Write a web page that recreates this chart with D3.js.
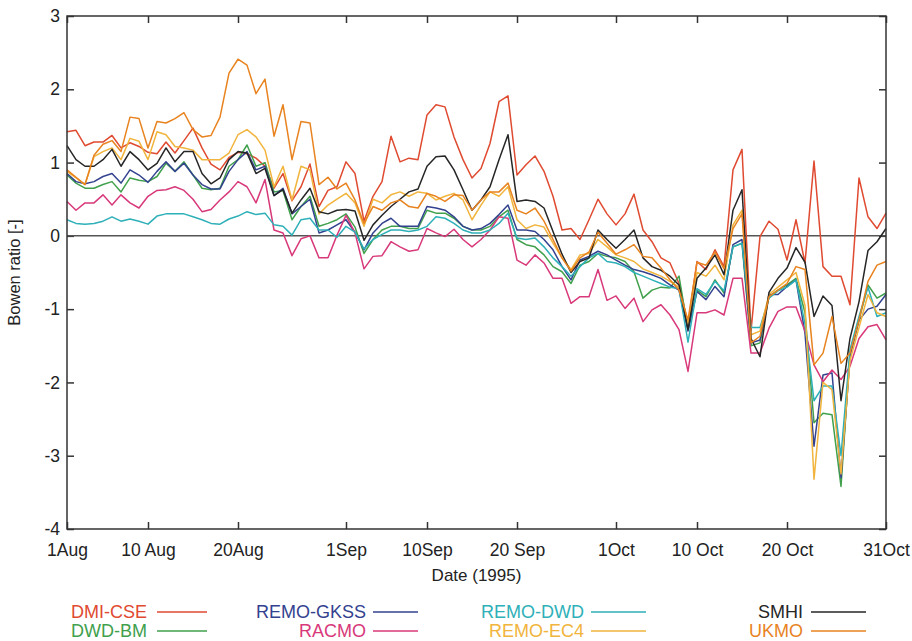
<!DOCTYPE html>
<html>
<head>
<meta charset="utf-8">
<script src="https://cdn.jsdelivr.net/npm/d3@7"></script>
<style>
  body { margin: 0; background: #fff; }
  svg text { font-family: "Liberation Sans", Arial, Helvetica, sans-serif; fill: #222; }
</style>
</head>
<body>
<svg id="chart" width="912" height="641"></svg>
<script>
// days since 1 Aug 1995 (0..91), daily Bowen ratio per model
var tickDays = [0, 9, 19, 31, 40, 50, 61, 70, 80, 91];
var tickLabels = ["1Aug", "10 Aug", "20Aug", "1Sep", "10Sep", "20 Sep", "1Oct", "10 Oct", "20 Oct", "31Oct"];
var yTicks = [-4, -3, -2, -1, 0, 1, 2, 3];

var dmiCse = [1.42, 1.44, 1.23, 1.28, 1.28, 1.37, 1.2, 1.27, 1.22, 1.14,
  1.12, 1.28, 1.13, 1.3, 1.47, 1.2, 0.98, 0.9, 1.07, 1.14,
  1.12, 1.06, 0.95, 0.65, 0.85, 0.48, 0.67, 0.98, 0.4, 0.62,
  0.67, 1.01, 0.85, 0.2, 0.54, 0.74, 1.36, 1.01, 1.06, 1.04,
  1.65, 1.79, 1.76, 1.35, 1.04, 0.79, 0.92, 1.26, 1.83, 1.91,
  0.83, 0.97, 1.09, 0.88, 0.54, 0.08, 0.1, -0.05, 0.22, 0.5,
  0.3, 0.15, 0.3, 0.57, 0.08, -0.08, -0.3, -0.37, -0.65, -1.21,
  -0.35, -0.46, -0.19, -0.42, 0.9, 1.18, -1.3, -0.01, 0.2, 0.09,
  -0.33, 0.22, -0.37, 1.02, -0.42, -0.55, -0.55, -0.94, 0.79, 0.26,
  0.1, 0.31];
var dwdBm = [0.83, 0.72, 0.65, 0.65, 0.7, 0.74, 0.6, 0.79, 0.76, 0.74,
  0.81, 0.99, 0.88, 1.01, 0.83, 0.65, 0.63, 0.65, 0.95, 1.04,
  1.24, 0.95, 1.0, 0.6, 0.62, 0.22, 0.4, 0.54, 0.13, 0.17,
  0.22, 0.3, 0.12, -0.24, -0.05, 0.08, 0.13, 0.13, 0.1, 0.1,
  0.35, 0.31, 0.31, 0.24, 0.13, 0.08, 0.08, 0.13, 0.26, 0.35,
  -0.05, -0.12, -0.15, -0.26, -0.42, -0.49, -0.65, -0.4, -0.35, -0.24,
  -0.28, -0.3, -0.35, -0.49, -0.85, -0.74, -0.7, -0.71, -0.55, -1.28,
  -0.74, -0.83, -0.6, -0.78, -0.15, -0.1, -1.5, -1.46, -0.83, -0.74,
  -0.67, -0.58, -1.05, -2.55, -2.42, -2.44, -3.42, -1.6, -1.15, -0.67,
  -0.85, -0.78];
var remoGkss = [0.85, 0.74, 0.71, 0.74, 0.81, 0.85, 0.72, 0.9, 0.83, 0.73,
  0.88, 1.01, 0.88, 0.99, 0.83, 0.7, 0.64, 0.64, 0.88, 1.04,
  1.15, 0.9, 0.95, 0.55, 0.65, 0.3, 0.4, 0.5, 0.04, 0.08,
  0.15, 0.22, 0.05, -0.19, 0.04, 0.17, 0.24, 0.13, 0.13, 0.13,
  0.4, 0.38, 0.35, 0.26, 0.13, 0.08, 0.1, 0.17, 0.29, 0.42,
  0.08, 0.08, 0.06, -0.05, -0.19, -0.42, -0.6, -0.33, -0.28, -0.21,
  -0.26, -0.33, -0.4, -0.46, -0.49, -0.53, -0.58, -0.67, -0.74, -1.3,
  -0.76, -0.87, -0.69, -0.83, -0.12, -0.05, -1.46, -1.42, -0.8, -0.8,
  -0.69, -0.6, -1.33, -2.87, -1.9, -1.87, -3.3, -1.65, -1.15, -1.0,
  -0.96, -0.8];
var racmo = [0.47, 0.35, 0.45, 0.45, 0.56, 0.42, 0.56, 0.45, 0.38, 0.54,
  0.62, 0.63, 0.67, 0.62, 0.5, 0.33, 0.36, 0.49, 0.6, 0.74,
  0.67, 0.45, 0.77, 0.08, 0.04, -0.27, -0.04, 0.0, -0.3, -0.3,
  0.01, 0.28, 0.04, -0.45, -0.28, -0.27, -0.08, -0.15, -0.21, -0.19,
  0.1, 0.04, -0.01, 0.09, -0.05, -0.15, -0.05, 0.08, 0.26, 0.24,
  -0.33, -0.4, -0.26, -0.37, -0.58, -0.58, -0.92, -0.83, -0.83, -0.46,
  -0.88, -0.82, -0.99, -0.85, -1.17, -1.01, -0.94, -1.08, -1.28, -1.85,
  -1.05, -1.05, -1.01, -1.08, -0.58, -0.58, -1.6, -1.6, -1.26, -1.03,
  -0.97, -0.97, -1.3, -1.76, -1.99, -1.83, -1.96, -1.78, -1.4, -1.24,
  -1.21, -1.42];
var remoDwd = [0.22, 0.17, 0.16, 0.17, 0.2, 0.26, 0.2, 0.23, 0.2, 0.16,
  0.27, 0.3, 0.3, 0.3, 0.26, 0.22, 0.17, 0.16, 0.23, 0.27,
  0.33, 0.29, 0.31, 0.15, 0.13, 0.01, 0.22, 0.24, 0.08, 0.08,
  -0.02, 0.13, 0.05, -0.18, -0.05, 0.02, 0.08, 0.08, 0.06, 0.08,
  0.13, 0.26, 0.24, 0.17, 0.08, 0.04, 0.04, 0.08, 0.17, 0.31,
  -0.03, -0.05, -0.03, -0.15, -0.3, -0.42, -0.55, -0.42, -0.3, -0.24,
  -0.35, -0.37, -0.42, -0.5, -0.55, -0.6, -0.65, -0.7, -0.72, -1.45,
  -0.72, -0.8, -0.62, -0.75, -0.15, -0.1, -1.25, -1.25, -0.85, -0.75,
  -0.7, -0.6, -1.2, -2.25, -2.05, -2.05, -3.0, -1.55, -1.1, -0.7,
  -1.1, -1.05];
var remoEc4 = [0.88, 0.79, 0.7, 1.08, 1.15, 1.2, 1.04, 1.33, 1.29, 1.04,
  1.42, 1.38, 1.22, 1.2, 1.17, 1.04, 1.04, 1.04, 1.13, 1.38,
  1.45, 1.35, 1.17, 0.67, 0.95, 0.49, 0.95, 0.9, 0.3, 0.42,
  0.5, 0.58, 0.45, 0.13, 0.5, 0.45, 0.56, 0.6, 0.54, 0.6,
  0.58, 0.49, 0.54, 0.58, 0.49, 0.22, 0.42, 0.6, 0.54, 0.67,
  0.22, 0.1, 0.15, 0.12, -0.1, -0.3, -0.46, -0.26, -0.24, -0.05,
  -0.15, -0.26, -0.3, -0.35, -0.45, -0.5, -0.55, -0.62, -0.7, -1.2,
  -0.5, -0.55, -0.4, -0.6, 0.15, 0.35, -1.35, -1.3, -0.8, -0.7,
  -0.6, -0.5, -0.95, -3.32, -2.0, -2.1, -3.25, -1.7, -1.25, -0.8,
  -1.05, -1.1];
var smhi = [1.23, 1.04, 0.95, 0.95, 1.04, 1.18, 0.95, 1.15, 1.04, 0.9,
  0.99, 1.2, 1.01, 1.15, 1.15, 0.85, 0.71, 0.79, 1.04, 1.15,
  1.13, 0.85, 0.92, 0.55, 0.63, 0.31, 0.49, 0.65, 0.33, 0.3,
  0.35, 0.36, 0.34, -0.06, 0.15, 0.28, 0.4, 0.5, 0.6, 0.64,
  0.95, 1.08, 1.09, 0.9, 0.63, 0.35, 0.49, 0.67, 1.04, 1.38,
  0.47, 0.49, 0.47, 0.38, 0.06, -0.25, -0.5, -0.35, -0.3, 0.08,
  -0.05, -0.17, -0.05, 0.08, -0.3, -0.42, -0.47, -0.55, -0.67, -1.28,
  -0.58, -0.44, -0.26, -0.53, 0.35, 0.63, -1.4, -1.65, -0.77, -0.58,
  -0.44, -0.16, -0.36, -1.1, -0.82, -0.95, -2.25, -1.4, -0.9, -0.2,
  -0.08, 0.1];
var ukmo = [0.9, 0.8, 0.7, 1.1, 1.25, 1.3, 1.15, 1.62, 1.6, 1.2,
  1.56, 1.54, 1.6, 1.68, 1.45, 1.35, 1.37, 1.62, 2.22, 2.41,
  2.33, 1.94, 2.14, 1.36, 1.79, 1.04, 1.56, 1.54, 0.7, 0.8,
  0.64, 0.72, 0.49, 0.17, 0.4, 0.35, 0.45, 0.49, 0.4, 0.38,
  0.58, 0.54, 0.47, 0.56, 0.55, 0.35, 0.49, 0.6, 0.6, 0.72,
  0.35, 0.3, 0.38, 0.2, -0.05, -0.3, -0.48, -0.3, -0.22, 0.05,
  -0.1, -0.25, -0.19, -0.12, -0.28, -0.3, -0.44, -0.6, -0.74, -1.15,
  -0.36, -0.4, -0.22, -0.45, 0.1, 0.3, -1.46, -1.37, -0.83, -0.74,
  -0.65, -0.42, -0.46, -1.76, -1.6, -1.1, -1.74, -1.6, -1.15, -0.62,
  -0.4, -0.35];

var seriesNames = ["DMI-CSE", "DWD-BM", "REMO-GKSS", "RACMO", "REMO-DWD", "REMO-EC4", "SMHI", "UKMO"];
var seriesValues = [dmiCse, dwdBm, remoGkss, racmo, remoDwd, remoEc4, smhi, ukmo];
var seriesColors = ["#df4a30", "#40a04c", "#33428f", "#d8397a", "#2eb0b8", "#f1b43c", "#262626", "#e8831f"];

var svg = d3.select("#chart");
var pLeft = 67, pRight = 886, pTop = 16, pBottom = 529;

var x = d3.scaleLinear().domain([0, 91]).range([pLeft, pRight]);
var y = d3.scaleLinear().domain([-4, 3]).range([pBottom, pTop]);

// axes, ticks pointing inward
var fmt = function (d, i) { return tickLabels[i]; };
svg.append("g").attr("class", "ax xb")
  .attr("transform", "translate(0," + pBottom + ")")
  .call(d3.axisBottom(x).tickValues(tickDays).tickFormat(fmt).tickSize(-7).tickPadding(7));
svg.append("g").attr("class", "ax")
  .attr("transform", "translate(0," + pTop + ")")
  .call(d3.axisTop(x).tickValues(tickDays).tickFormat("").tickSize(-7));
svg.append("g").attr("class", "ax")
  .attr("transform", "translate(" + pLeft + ",0)")
  .call(d3.axisLeft(y).tickValues(yTicks).tickFormat(function (d) { return String(d); }).tickSize(-7).tickPadding(7));
svg.append("g").attr("class", "ax")
  .attr("transform", "translate(" + pRight + ",0)")
  .call(d3.axisRight(y).tickValues(yTicks).tickFormat("").tickSize(-7));

svg.selectAll(".ax .domain").remove();
svg.selectAll(".ax line").attr("stroke", "#333").attr("stroke-width", 1.5);
svg.selectAll(".ax text").style("font-size", "17.5px").attr("fill", "#222");
svg.selectAll(".xb text").attr("y", 15).attr("dy", "0.71em");

// zero line
svg.append("line")
  .attr("x1", pLeft).attr("x2", pRight)
  .attr("y1", y(0)).attr("y2", y(0))
  .attr("stroke", "#555").attr("stroke-width", 1.5);

var line = d3.line()
  .x(function (d, i) { return x(i); })
  .y(function (d) { return y(d); });

svg.append("g").selectAll("path")
  .data(seriesValues)
  .enter().append("path")
  .attr("d", line)
  .attr("fill", "none")
  .attr("stroke", function (d, i) { return seriesColors[i]; })
  .attr("stroke-width", 1.5)
  .attr("stroke-linejoin", "round");

// frame
svg.append("rect")
  .attr("x", pLeft).attr("y", pTop)
  .attr("width", pRight - pLeft).attr("height", pBottom - pTop)
  .attr("fill", "none").attr("stroke", "#333").attr("stroke-width", 1.5);

// axis titles
svg.append("text")
  .attr("x", (pLeft + pRight) / 2).attr("y", 581)
  .attr("text-anchor", "middle")
  .style("font-size", "17px")
  .text("Date (1995)");
svg.append("text")
  .attr("transform", "translate(20," + ((pTop + pBottom) / 2) + ") rotate(-90)")
  .attr("text-anchor", "middle")
  .style("font-size", "16.5px")
  .text("Bowen ratio [-]");

// legend: two rows, four columns
var legTextEnd = [147, 147, 366, 366, 584, 584, 803, 803];
var legLine = [[157, 207], [157, 207], [373, 418], [373, 418], [591, 646], [591, 646], [811, 866], [811, 866]];
var legOrder = [0, 1, 2, 3, 4, 5, 6, 7];
var rowY = [612, 631];

var leg = svg.append("g").selectAll("g")
  .data(legOrder)
  .enter().append("g");
leg.append("text")
  .attr("x", function (d) { return legTextEnd[d]; })
  .attr("y", function (d) { return rowY[d % 2] + 6; })
  .attr("text-anchor", "end")
  .style("font-size", "18px")
  .style("fill", function (d) { return seriesColors[d]; })
  .text(function (d) { return seriesNames[d]; });
leg.append("line")
  .attr("x1", function (d) { return legLine[d][0]; })
  .attr("x2", function (d) { return legLine[d][1]; })
  .attr("y1", function (d) { return rowY[d % 2]; })
  .attr("y2", function (d) { return rowY[d % 2]; })
  .attr("stroke", function (d) { return seriesColors[d]; })
  .attr("stroke-width", 1.5);
</script>
</body>
</html>
